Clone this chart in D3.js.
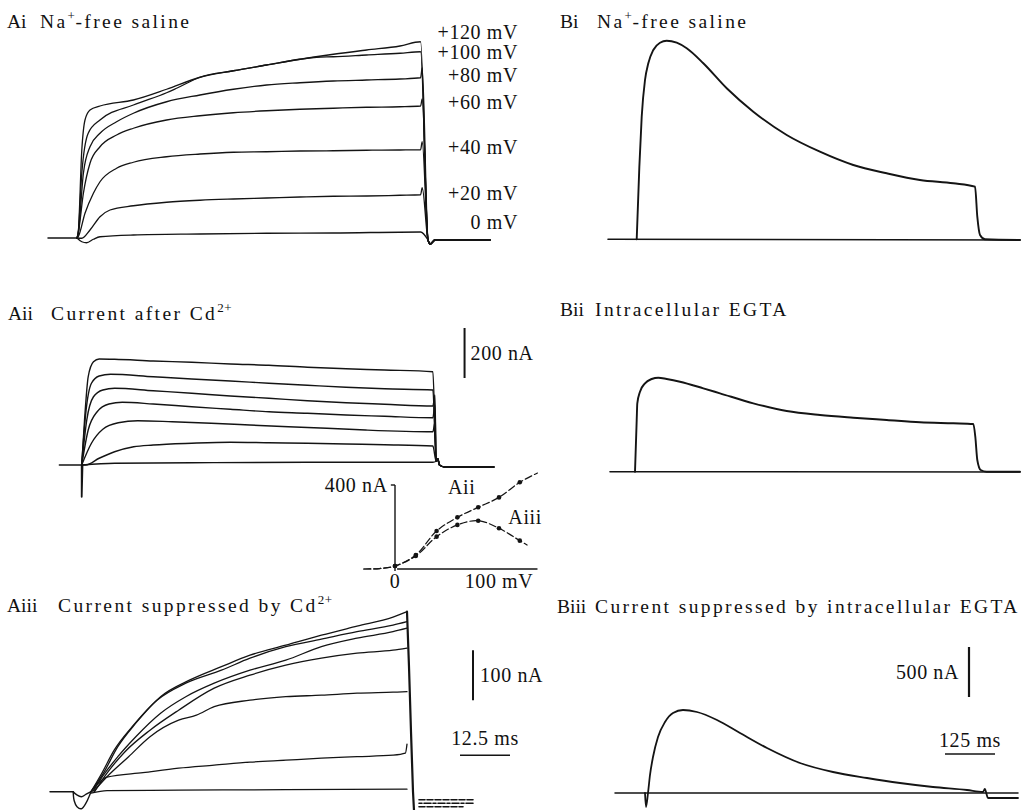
<!DOCTYPE html>
<html><head><meta charset="utf-8">
<script src="https://cdn.jsdelivr.net/npm/d3@7"></script>
<style>
html,body{margin:0;padding:0;background:#fff;}
svg{display:block;}
text{font-family:'Liberation Serif','Times New Roman',serif;fill:#111;}
.title{font-size:19.5px;letter-spacing:2.4px;}
.pid{font-size:19.5px;letter-spacing:0px;}
.lab{font-size:20px;letter-spacing:0.6px;}
</style></head><body>
<svg id="fig" width="1029" height="810"></svg>
<script>
// ================= DATA =================
// Panel titles
const panelIds = ["Ai", "Aii", "Aiii", "Bi", "Bii", "Biii"];
const panelTitles = [
  [["Na"], ["+", "sup"], ["-free saline"]],
  [["Current after Cd"], ["2+", "sup"]],
  [["Current suppressed by Cd"], ["2+", "sup"]],
  [["Na"], ["+", "sup"], ["-free saline"]],
  [["Intracellular EGTA"]],
  [["Current suppressed by intracellular EGTA"]]
];

// Ai: Na+-free saline, [time ms from step onset, current nA]
const aiVoltageLabels = ["+120 mV", "+100 mV", "+80 mV", "+60 mV", "+40 mV", "+20 mV", "0 mV"];
const aiLabelCurrent = [824, 744, 652, 544, 364, 180, 64];
const aiTrace120 = [[0,0],[0.3,19],[1.2,352],[2,472],[3.25,512],[5.75,528],[14.1,552],[22.4,595],[30.75,643],[39.1,669],[47.4,692],[55.75,715],[64.1,735],[72.4,752],[80.75,768],[85.9,785]];
const aiTrace100 = [[0,0],[0.3,19],[1.2,259],[2.8,419],[5.75,472],[14.1,532],[22.4,581],[24.9,599],[30.75,643],[39.1,669],[47.4,692],[55.75,715],[59.9,723],[64.1,725],[72.4,732],[80.75,739],[85.9,745]];
const aiTrace80 = [[0,0],[0.3,19],[1.6,259],[3.25,365],[5.75,419],[9.9,465],[14.1,499],[22.4,545],[30.75,572],[39.1,595],[47.4,612],[55.75,621],[64.1,628],[72.4,632],[80.75,636],[85.9,641],[86.3,680]];
const aiTrace60 = [[0,0],[0.3,19],[1.6,179],[3.25,299],[5.75,365],[9.9,412],[14.1,439],[22.4,472],[30.75,489],[39.1,501],[47.4,509],[55.75,515],[64.1,519],[72.4,523],[80.75,525],[85.9,528],[86.3,556]];
const aiTrace40 = [[0,0],[0.3,5],[2,99],[4.1,179],[5.75,225],[9.9,279],[14.1,303],[22.4,325],[30.75,336],[39.1,343],[47.4,345],[55.75,348],[64.1,349],[72.4,351],[80.75,352],[85.9,353],[86.3,385]];
const aiTrace20 = [[0,0],[1.2,-1],[3.25,32],[5.75,85],[8.25,112],[14.1,129],[22.4,143],[30.75,151],[39.1,156],[47.4,160],[55.75,164],[64.1,167],[72.4,168],[80.75,171],[85.9,173],[86.3,201]];
const aiTrace0 = [[0,0],[1.2,-15],[2.4,-19],[4.1,-5],[5.75,5],[14.1,12],[30.75,16],[47.4,19],[64.1,20],[85.9,24]];
const aiPreBaseline = [[-7.25,0],[0,0]];
const aiOffsetTail = [[87.75,-8],[88.3,-24],[89.5,-8],[103.25,-8]];

// Aii: current after Cd2+
const aiiTrace1 = [[0,0],[0.7,180],[1.6,353],[2.9,413],[4.3,424],[8.1,423],[17.6,416],[27.1,411],[36.6,404],[46.1,399],[55.6,391],[65.1,385],[74.6,380],[86.5,373]];
const aiiTrace2 = [[0,0],[1.0,207],[2.4,327],[4.3,356],[7.1,363],[17.6,353],[27.1,344],[36.6,336],[46.1,327],[55.6,319],[65.1,311],[74.6,305],[86.5,300]];
const aiiTrace3 = [[0,0],[1.25,180],[2.9,273],[5.2,300],[8.1,307],[17.6,297],[27.1,287],[36.6,276],[46.1,267],[55.6,257],[65.1,249],[74.6,243],[86.5,236],[87.0,280]];
const aiiTrace4 = [[0,0],[1.6,140],[3.8,213],[6.7,244],[10.0,251],[17.6,244],[27.1,233],[36.6,223],[46.1,213],[55.6,207],[65.1,200],[74.6,195],[86.5,189],[87.0,240]];
const aiiTrace5 = [[0,0],[2.4,87],[5.2,143],[9.0,169],[13.8,177],[22.3,173],[31.9,167],[41.4,160],[50.9,153],[60.4,147],[69.9,140],[86.5,133],[87.0,170]];
const aiiTrace6 = [[0,0],[1.0,0],[4.3,27],[8.1,53],[12.8,73],[17.6,80],[27.1,87],[36.6,91],[46.1,89],[55.6,87],[65.1,84],[74.6,81],[86.5,76]];
const aiiTrace7 = [[0,0],[8.1,7],[27.1,9],[55.6,11],[86.5,11]];
const aiiPreBaseline = [[-5.5,0],[0,0]];
const aiiOnsetSpike = [[0,0],[0,-127],[0.2,0]];
const aiiOffsetTail = [[87.3,15],[87.7,25],[88.1,0],[89.5,-8],[101.5,-8]];

// Aiii: current suppressed by Cd2+
const aiiiTrace1 = [[0,0],[3.1,37],[6.7,90],[11.2,137],[17.4,190],[24.6,223],[32.6,250],[39.75,273],[48.7,293],[57.6,313],[66.5,331],[75.5,349],[79.0,360]];
const aiiiTrace2 = [[0,0],[2.7,37],[5.8,83],[10.3,130],[16.5,183],[23.7,217],[32.6,243],[39.75,267],[48.7,290],[57.6,305],[66.5,320],[75.5,333],[79.0,340]];
const aiiiTrace3 = [[0.45,0],[3.1,33],[6.7,70],[11.2,110],[17.4,157],[23.7,190],[30.8,217],[39.75,243],[48.7,263],[57.6,290],[66.5,307],[75.5,320],[79.0,327]];
const aiiiTrace4 = [[0.9,0],[4.0,37],[8.5,80],[14.75,123],[21.9,163],[30.8,207],[39.75,233],[48.7,253],[57.6,267],[66.5,277],[75.5,283],[79.0,287]];
const aiiiTrace5 = [[0.9,3],[4.0,30],[9.4,70],[14.75,110],[21.9,143],[26.35,153],[30.8,170],[39.75,183],[48.7,190],[57.6,193],[66.5,197],[75.5,199],[79.0,200]];
const aiiiTrace6 = [[0,0],[2.2,20],[4.0,29],[13.0,38],[21.9,47],[30.8,53],[39.75,59],[48.7,63],[57.6,67],[66.5,70],[75.5,73],[78.6,77],[79.0,95]];
const aiiiTrace7 = [[0,-3],[4.0,2],[21.9,3],[48.7,4],[79.0,5]];
const aiiiPreBaseline = [[-10.25,0],[-4.45,0]];
const aiiiOnsetLoopA = [[-4.45,0],[-4.2,-18],[-3.5,-30],[-2.4,-34],[-1.2,-22],[-0.4,-8],[0,0]];
const aiiiOnsetLoopB = [[-4.45,0],[-3.6,-6],[-2.4,-10],[-1.2,-5],[0,0]];
const aiiiOffsetLine = [[79.0,360],[79.5,250],[80.0,120],[80.5,0],[80.8,-45]];
const aiiiTailMarks = [[[82,-16],[96,-16]], [[82,-23],[95.5,-23]], [[82,-30],[93,-30]]];

// I-V inset: membrane potential (mV) vs current (nA)
const ivVoltages = [0, 20, 40, 60, 80, 100, 120];
const ivAii = [14, 67, 181, 246, 294, 341, 413];
const ivAiii = [14, 62, 154, 210, 230, 194, 135];
const ivAiiLineStart = [[-30,0],[-15,2]];
const ivAiiLineEnd = [[137,457]];
const ivAiiiLineStart = [[-30,0],[-15,2]];
const ivAiiiLineEnd = [[127,114]];
const ivXTicks = [0, 100];
const ivXTickLabels = ["0", "100 mV"];
const ivYTicks = [400];
const ivYTickLabels = ["400 nA"];

// Bi / Bii / Biii  [time ms from step onset, current nA]
const biTrace = [[0,0],[6.6,726],[12.5,1226],[20.75,1593],[29,1760],[41.5,1893],[58.25,1966],[75,1986],[100,1966],[125,1910],[166.5,1760],[225,1510],[291.5,1276],[375,1043],[458,876],[541.5,743],[625,660],[708,593],[791.5,560],[845.8,526],[851.5,226],[858.3,43],[870.8,0],[958.3,-7]];
const biBaseline = [[-71.75,0],[958.3,-7]];
const biiTrace = [[0,0],[4.25,517],[5.75,684],[12.5,800],[25,884],[41.75,927],[58.25,940],[79.25,927],[112.5,900],[170.75,834],[212.5,784],[295.75,684],[379.25,607],[462.5,567],[545.75,540],[629.25,517],[712.5,494],[795.75,484],[845.75,477],[850.75,350],[855.75,117],[864.25,17],[879.25,0],[962.5,0]];
const biiBaseline = [[-62.5,0],[962.5,-3]];
const biiiTrace = [[-2.5,0],[0,-140],[5,0],[10,180],[17.5,360],[30,560],[47.5,710],[67.5,800],[92.5,830],[127.5,810],[177.5,730],[235,600],[302.5,450],[385,300],[467.5,210],[552.5,150],[635,100],[717.5,60],[802.5,30],[842.5,10],[847,40],[855,-50],[930,-50]];
const biiiBaseline = [[-77.5,0],[930,0]];

// Scale bars
const aiiCurrentBar = {t: 94.3, from: 348, to: 548, label: "200 nA"};
const aiiiCurrentBar = {t: 95.5, from: 183, to: 283, label: "100 nA"};
const aiiiTimeBar = {from: 92.25, to: 104.75, i: 73, label: "12.5 ms"};
const biiiCurrentBar = {t: 807.5, from: 960, to: 1460, label: "500 nA"};
const biiiTimeBar = {from: 747.5, to: 872.5, i: 390, label: "125 ms"};

// ================= DRAWING =================
const svg = d3.select("#fig");
const INK = "#141414";

const sc = (d, r) => d3.scaleLinear().domain(d).range(r);
const xAi = sc([0,100],[77,477]),   yAi = sc([0,800],[238,38]);
const xAii = sc([0,100],[81.7,487.7]), yAii = sc([0,800],[465,265]);
const xAiii = sc([0,100],[91,491]), yAiii = sc([0,400],[791.7,591.7]);
const xIV = sc([0,100],[395,499]),  yIV = sc([0,400],[569,485]);
const xBi = sc([0,1000],[636.7,1036.7]), yBi = sc([0,2000],[239.3,39.3]);
const xBii = sc([0,1000],[635,1035]), yBii = sc([0,2000],[471.7,271.7]);
const xBiii = sc([0,1000],[646,1046]), yBiii = sc([0,2000],[793,593]);

function trace(data, xs, ys, sw, opts) {
  opts = opts || {};
  const curve = opts.linear ? d3.curveLinear : (opts.catmull ? d3.curveCatmullRom.alpha(0.5) : d3.curveMonotoneX);
  const gen = d3.line().x(d => xs(d[0])).y(d => ys(d[1])).curve(curve);
  svg.append("path").attr("d", gen(data))
    .attr("fill", "none").attr("stroke", INK).attr("stroke-width", sw)
    .attr("stroke-linejoin", "round").attr("stroke-linecap", "round")
    .attr("stroke-dasharray", opts.dash || null);
}

// ---- Titles ----
const titlePos = [
  {idX: 7, textX: 40, y: 28},
  {idX: 8, textX: 51, y: 320},
  {idX: 7, textX: 58, y: 612},
  {idX: 560, textX: 597, y: 28},
  {idX: 560, textX: 595, y: 316},
  {idX: 557, textX: 595, y: 613}
];
panelIds.forEach((id, k) => {
  const p = titlePos[k];
  svg.append("text").attr("class", "pid").attr("x", p.idX).attr("y", p.y).text(id);
  const t = svg.append("text").attr("class", "title").attr("x", p.textX).attr("y", p.y);
  let up = false;
  panelTitles[k].forEach(([s, kind]) => {
    const ts = t.append("tspan").text(s);
    if (kind === "sup") { ts.attr("font-size", 13).attr("dy", -8).attr("letter-spacing", 0.5); up = true; }
    else if (up) { ts.attr("dy", 8); up = false; }
  });
});

// ---- Ai ----
const aiTraces = [aiTrace120, aiTrace100, aiTrace80, aiTrace60, aiTrace40, aiTrace20, aiTrace0];
trace(aiPreBaseline, xAi, yAi, 1.5, {linear: true});
aiTraces.forEach(tr => trace(tr.concat(aiOffsetTail), xAi, yAi, 1.3));
aiVoltageLabels.forEach((s, k) => {
  svg.append("text").attr("class", "lab").attr("text-anchor", "end")
    .attr("x", 518).attr("y", yAi(aiLabelCurrent[k]) + 7).text(s);
});

// ---- Aii ----
const aiiTraces = [aiiTrace1, aiiTrace2, aiiTrace3, aiiTrace4, aiiTrace5, aiiTrace6, aiiTrace7];
trace(aiiPreBaseline, xAii, yAii, 1.5, {linear: true});
trace(aiiOnsetSpike, xAii, yAii, 1.8, {linear: true});
aiiTraces.forEach(tr => trace(tr.concat(aiiOffsetTail), xAii, yAii, 1.4));
svg.append("line").attr("x1", xAii(aiiCurrentBar.t)).attr("x2", xAii(aiiCurrentBar.t))
  .attr("y1", yAii(aiiCurrentBar.from)).attr("y2", yAii(aiiCurrentBar.to))
  .attr("stroke", INK).attr("stroke-width", 2);
svg.append("text").attr("class", "lab").attr("x", xAii(aiiCurrentBar.t) + 6)
  .attr("y", yAii((aiiCurrentBar.from + aiiCurrentBar.to) / 2) + 7).text(aiiCurrentBar.label);

// ---- I-V inset ----
svg.append("line").attr("x1", xIV(0)).attr("x2", xIV(0)).attr("y1", yIV(400)).attr("y2", yIV(-10))
  .attr("stroke", INK).attr("stroke-width", 1.4);
svg.append("line").attr("x1", xIV(-4)).attr("x2", xIV(0)).attr("y1", yIV(400)).attr("y2", yIV(400))
  .attr("stroke", INK).attr("stroke-width", 1.4);
svg.append("line").attr("x1", xIV(2)).attr("x2", xIV(137)).attr("y1", yIV(0)).attr("y2", yIV(0))
  .attr("stroke", INK).attr("stroke-width", 1.4);
ivXTicks.forEach((v, k) => {
  svg.append("text").attr("class", "lab").attr("text-anchor", "middle")
    .attr("x", xIV(v)).attr("y", 588).text(ivXTickLabels[k]);
});
ivYTicks.forEach((v, k) => {
  svg.append("text").attr("class", "lab").attr("text-anchor", "end")
    .attr("x", xIV(-7)).attr("y", yIV(v) + 7).text(ivYTickLabels[k]);
});
const ivAiiPts = ivVoltages.map((v, k) => [v, ivAii[k]]);
const ivAiiiPts = ivVoltages.map((v, k) => [v, ivAiii[k]]);
trace(ivAiiLineStart.concat(ivAiiPts, ivAiiLineEnd), xIV, yIV, 1.2, {dash: "7,3", catmull: true});
trace(ivAiiiLineStart.concat(ivAiiiPts, ivAiiiLineEnd), xIV, yIV, 1.2, {dash: "7,3", catmull: true});
[ivAiiPts, ivAiiiPts].forEach(pts => {
  svg.append("g").selectAll("circle").data(pts).join("circle")
    .attr("cx", d => xIV(d[0])).attr("cy", d => yIV(d[1])).attr("r", 2.3).attr("fill", INK);
});
svg.append("text").attr("class", "lab").attr("x", xIV(51)).attr("y", yIV(357)).text("Aii");
svg.append("text").attr("class", "lab").attr("x", xIV(109)).attr("y", yIV(214)).text("Aiii");

// ---- Aiii ----
const aiiiTraces = [aiiiTrace1, aiiiTrace2, aiiiTrace3, aiiiTrace4, aiiiTrace5, aiiiTrace6, aiiiTrace7];
trace(aiiiPreBaseline, xAiii, yAiii, 1.5, {linear: true});
trace(aiiiOnsetLoopA, xAiii, yAiii, 1.4, {catmull: true});
trace(aiiiOnsetLoopB, xAiii, yAiii, 1.4, {catmull: true});
aiiiTraces.forEach(tr => trace(tr, xAiii, yAiii, 1.3));
trace(aiiiOffsetLine, xAiii, yAiii, 2.2, {linear: true});
aiiiTailMarks.forEach((m, k) => trace(m, xAiii, yAiii, 1.6, {linear: true, dash: k === 1 ? "3,2,7,2" : "6,2"}));
svg.append("line").attr("x1", xAiii(aiiiCurrentBar.t)).attr("x2", xAiii(aiiiCurrentBar.t))
  .attr("y1", yAiii(aiiiCurrentBar.from)).attr("y2", yAiii(aiiiCurrentBar.to))
  .attr("stroke", INK).attr("stroke-width", 2);
svg.append("text").attr("class", "lab").attr("x", xAiii(aiiiCurrentBar.t) + 7)
  .attr("y", yAiii((aiiiCurrentBar.from + aiiiCurrentBar.to) / 2) + 7).text(aiiiCurrentBar.label);
svg.append("line").attr("x1", xAiii(aiiiTimeBar.from)).attr("x2", xAiii(aiiiTimeBar.to))
  .attr("y1", yAiii(aiiiTimeBar.i)).attr("y2", yAiii(aiiiTimeBar.i))
  .attr("stroke", INK).attr("stroke-width", 1.6);
svg.append("text").attr("class", "lab").attr("text-anchor", "middle")
  .attr("x", xAiii((aiiiTimeBar.from + aiiiTimeBar.to) / 2))
  .attr("y", yAiii(aiiiTimeBar.i) - 10).text(aiiiTimeBar.label);

// ---- Bi, Bii, Biii ----
trace(biBaseline, xBi, yBi, 1.6, {linear: true});
trace(biTrace, xBi, yBi, 1.9);
trace(biiBaseline, xBii, yBii, 1.6, {linear: true});
trace(biiTrace, xBii, yBii, 1.9);
trace(biiiBaseline, xBiii, yBiii, 1.5, {linear: true});
trace(biiiTrace, xBiii, yBiii, 1.8);
svg.append("line").attr("x1", xBiii(biiiCurrentBar.t)).attr("x2", xBiii(biiiCurrentBar.t))
  .attr("y1", yBiii(biiiCurrentBar.from)).attr("y2", yBiii(biiiCurrentBar.to))
  .attr("stroke", INK).attr("stroke-width", 2.2);
svg.append("text").attr("class", "lab").attr("text-anchor", "end")
  .attr("x", xBiii(biiiCurrentBar.t) - 10)
  .attr("y", yBiii((biiiCurrentBar.from + biiiCurrentBar.to) / 2) + 7).text(biiiCurrentBar.label);
svg.append("line").attr("x1", xBiii(biiiTimeBar.from)).attr("x2", xBiii(biiiTimeBar.to))
  .attr("y1", yBiii(biiiTimeBar.i)).attr("y2", yBiii(biiiTimeBar.i))
  .attr("stroke", INK).attr("stroke-width", 1.6);
svg.append("text").attr("class", "lab").attr("text-anchor", "middle")
  .attr("x", xBiii((biiiTimeBar.from + biiiTimeBar.to) / 2))
  .attr("y", yBiii(biiiTimeBar.i) - 7).text(biiiTimeBar.label);
</script>
</body></html>
